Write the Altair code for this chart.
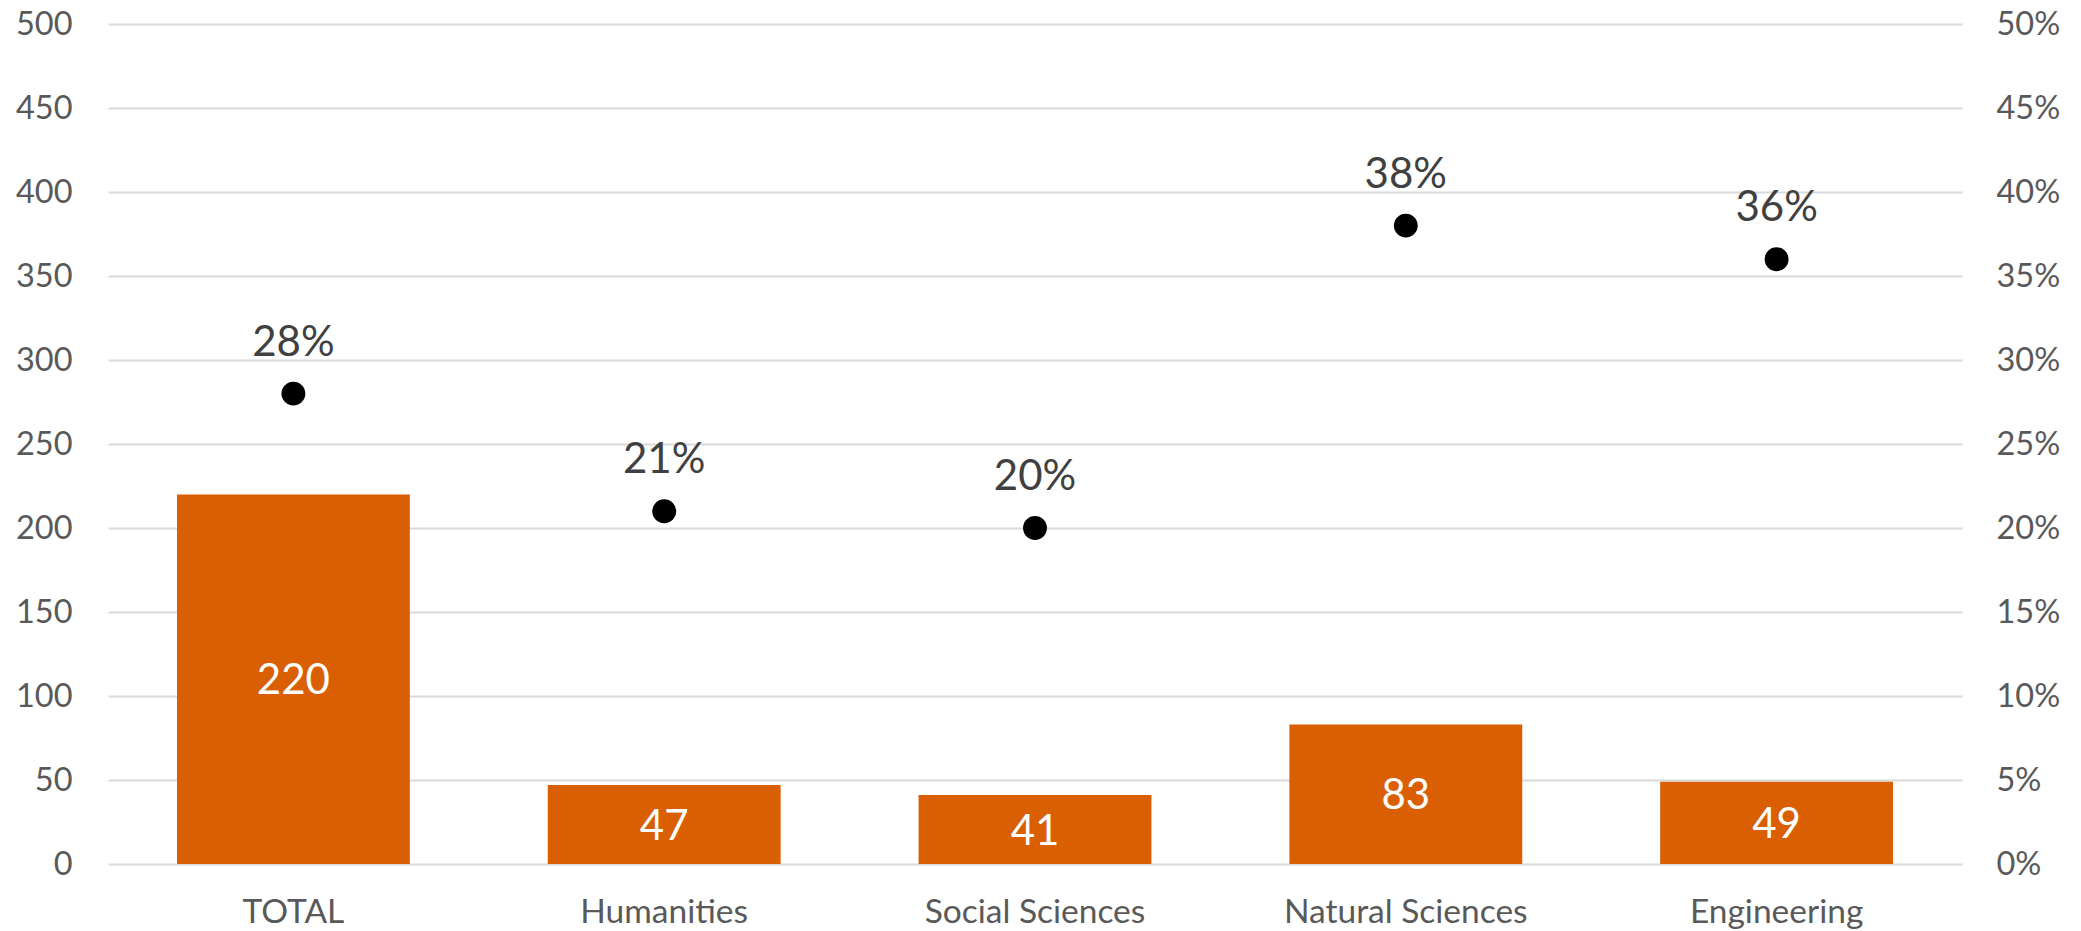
import altair as alt
import pandas as pd

# Category labels, counts drawn as bars and shares drawn as dots
categories = ["TOTAL", "Humanities", "Social Sciences", "Natural Sciences", "Engineering"]
counts = [220, 47, 41, 83, 49]
shares = [0.28, 0.21, 0.20, 0.38, 0.36]
count_ticks = [0, 50, 100, 150, 200, 250, 300, 350, 400, 450, 500]
share_ticks = [0, 0.05, 0.10, 0.15, 0.20, 0.25, 0.30, 0.35, 0.40, 0.45, 0.50]

df = pd.DataFrame({"category": categories, "count": counts, "share": shares})
df["share_label"] = [f"{round(s * 100)}%" for s in shares]
df["half"] = df["count"] / 2

FONT = "Lato"
BAR = "#D95F02"
AXIS_TEXT = "#595959"

x_enc = alt.X(
    "category:N",
    sort=None,
    title=None,
    scale=alt.Scale(paddingInner=0.372, paddingOuter=0.186),
    axis=alt.Axis(
        domain=False, ticks=False, grid=False, labelAngle=0, labelLimit=0,
        labelFont=FONT, labelFontSize=33.5, labelColor=AXIS_TEXT, labelPadding=32,
    ),
)

count_scale = alt.Scale(domain=[0, 500], nice=False, zero=True)
share_scale = alt.Scale(domain=[0, 0.5], nice=False, zero=True)

bars = alt.Chart(df).mark_bar(color=BAR).encode(
    x=x_enc,
    y=alt.Y(
        "count:Q",
        scale=count_scale,
        title=None,
        axis=alt.Axis(
            orient="left", values=count_ticks, domain=False, ticks=False,
            grid=True, gridColor="#D9D9D9", gridWidth=2,
            labelFont=FONT, labelFontSize=32.5, labelColor=AXIS_TEXT, labelPadding=36,
        ),
    ),
)

bar_text = alt.Chart(df).mark_text(
    color="white", font=FONT, fontSize=42, baseline="middle", align="center", dy=2
).encode(
    x=alt.X("category:N", sort=None),
    y=alt.Y("half:Q", scale=count_scale),
    text=alt.Text("count:Q"),
)

dots = alt.Chart(df).mark_point(filled=True, color="black", size=570, opacity=1).encode(
    x=alt.X("category:N", sort=None),
    y=alt.Y(
        "share:Q",
        scale=share_scale,
        title=None,
        axis=alt.Axis(
            orient="right", values=share_ticks, format=".0%", domain=False, ticks=False,
            grid=False,
            labelFont=FONT, labelFontSize=32.5, labelColor=AXIS_TEXT, labelPadding=34,
        ),
    ),
)

dot_text = alt.Chart(df).mark_text(
    color="#404040", font=FONT, fontSize=42, baseline="alphabetic", align="center", dy=-38
).encode(
    x=alt.X("category:N", sort=None),
    y=alt.Y("share:Q", scale=share_scale),
    text="share_label:N",
)

chart = (
    alt.layer(alt.layer(bars, bar_text), alt.layer(dots, dot_text))
    .resolve_scale(y="independent")
    .properties(
        width=1854,
        height=840,
        autosize=alt.AutoSizeParams(type="none"),
        padding={"left": 108, "top": 24, "right": 119, "bottom": 67},
        background="white",
    )
    .configure_view(stroke=None)
)

chart.save("out.html", embed_options={"renderer": "svg", "actions": False})
